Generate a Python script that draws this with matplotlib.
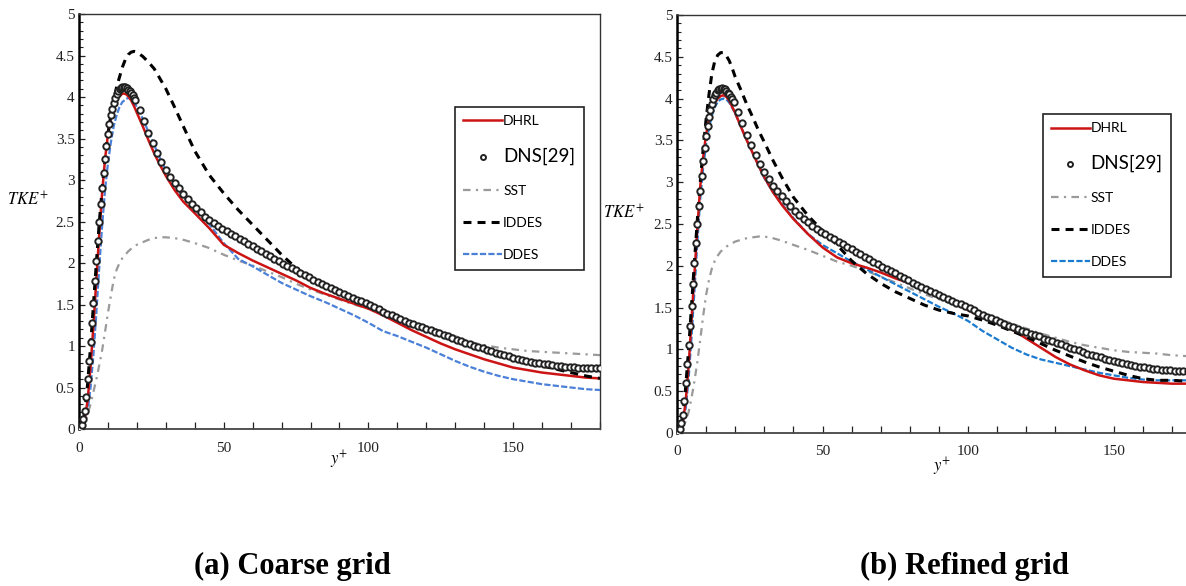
import numpy as np
import matplotlib.pyplot as plt
from matplotlib.ticker import MultipleLocator, FormatStrFormatter

plt.rcParams['font.family'] = ['Liberation Serif', 'DejaVu Serif']
plt.rcParams['mathtext.fontset'] = 'stix'

# ---------------- data ----------------
# DNS reference (same in both panels)
dns_yp = [0, 0.5, 1, 1.5, 2, 2.5, 3, 3.5, 4, 4.5, 5, 5.5, 6, 6.5, 7, 7.5, 8, 8.5, 9, 9.5,
          10, 10.5, 11, 11.5, 12, 12.5, 13, 13.5, 14, 14.5, 15, 15.5, 16, 16.5, 17, 17.5, 18, 18.5, 19,
          19.5, 21, 22.5, 24, 25.5, 27, 28.5, 30, 31.5, 33, 34.5, 36, 37.5, 39, 40.5, 42, 43.5, 45,
          46.5, 48, 49.5, 51, 52.5, 54, 55.5, 57, 58.5, 60, 61.5, 63, 64.5, 66, 67.5, 69, 70.5, 72,
          73.5, 75, 76.5, 78, 79.5, 81, 82.5, 84, 85.5, 87, 88.5, 90, 91.5, 93, 94.5, 96, 97.5, 99,
          100.5, 102, 103.5, 105, 106.5, 108, 109.5, 111, 112.5, 114, 115.5, 117, 118.5, 120, 121.5,
          123, 124.5, 126, 127.5, 129, 130.5, 132, 133.5, 135, 136.5, 138, 139.5, 141, 142.5, 144,
          145.5, 147, 148.5, 150, 151.5, 153, 154.5, 156, 157.5, 159, 160.5, 162, 163.5, 165, 166.5,
          168, 169.5, 171, 172.5, 174, 175.5, 177, 178.5, 180]
dns_tke = [0, 0.01, 0.05, 0.12, 0.22, 0.38, 0.6, 0.82, 1.05, 1.28, 1.52, 1.78, 2.03, 2.27, 2.5, 2.71, 2.9, 3.08, 3.25, 3.41,
           3.55, 3.67, 3.78, 3.86, 3.93, 3.99, 4.04, 4.07, 4.1, 4.11, 4.12, 4.125, 4.12, 4.11, 4.09, 4.07, 4.05, 4.02, 3.99,
           3.96, 3.84, 3.71, 3.57, 3.45, 3.33, 3.22, 3.12, 3.04, 2.96, 2.90, 2.83, 2.77, 2.71, 2.66, 2.61, 2.56, 2.52,
           2.48, 2.44, 2.41, 2.38, 2.35, 2.32, 2.29, 2.26, 2.23, 2.20, 2.17, 2.14, 2.11, 2.08, 2.05, 2.02, 1.99, 1.96,
           1.94, 1.91, 1.88, 1.85, 1.83, 1.80, 1.77, 1.75, 1.72, 1.70, 1.67, 1.65, 1.63, 1.60, 1.58, 1.56, 1.54, 1.515,
           1.49, 1.47, 1.44, 1.415, 1.39, 1.37, 1.35, 1.325, 1.30, 1.28, 1.265, 1.245, 1.225, 1.21, 1.19,
           1.17, 1.155, 1.13, 1.115, 1.095, 1.075, 1.06, 1.04, 1.02, 1.005, 0.99, 0.97, 0.95, 0.935, 0.92,
           0.905, 0.89, 0.875, 0.86, 0.845, 0.835, 0.825, 0.81, 0.80, 0.795, 0.785, 0.78, 0.77, 0.765, 0.755,
           0.75, 0.75, 0.745, 0.74, 0.74, 0.74, 0.735, 0.73, 0.73]

# y+ locations of model curves
yp = [0, 1, 2, 3, 4, 5, 6, 7, 8, 9, 10, 11, 12, 13, 14, 15, 16, 17, 18, 19, 20, 22, 24, 26, 28, 30,
      33, 36, 40, 45, 50, 55, 60, 65, 70, 75, 80, 85, 90, 95, 100, 105, 110, 115, 120, 125, 130,
      135, 140, 145, 150, 155, 160, 165, 170, 175, 180]

# (a) coarse grid
dhrl_a = [0, 0.03, 0.12, 0.35, 0.75, 1.25, 1.8, 2.35, 2.85, 3.25, 3.55, 3.75, 3.88, 3.96, 4.01, 4.04, 4.04, 4.01, 3.96, 3.89, 3.81, 3.65, 3.48, 3.32, 3.18, 3.05,
          2.88, 2.74, 2.60, 2.42, 2.22, 2.12, 2.03, 1.95, 1.87, 1.79, 1.70, 1.63, 1.57, 1.51, 1.45, 1.37, 1.28, 1.19, 1.11, 1.03, 0.96,
          0.90, 0.84, 0.79, 0.74, 0.71, 0.68, 0.66, 0.64, 0.62, 0.61]
sst_a = [0, 0.02, 0.08, 0.18, 0.3, 0.45, 0.6, 0.77, 0.95, 1.17, 1.4, 1.6, 1.8, 1.92, 2.0, 2.06, 2.1, 2.14, 2.17, 2.2, 2.22, 2.25, 2.28, 2.3, 2.31, 2.31,
         2.3, 2.28, 2.24, 2.18, 2.1, 2.03, 1.97, 1.9, 1.83, 1.75, 1.68, 1.62, 1.56, 1.5, 1.45, 1.39, 1.34, 1.29, 1.24, 1.18, 1.12,
         1.05, 1.01, 0.98, 0.96, 0.94, 0.93, 0.92, 0.91, 0.9, 0.89]
iddes_a = [0, 0.05, 0.2, 0.55, 1.0, 1.5, 2.0, 2.48, 2.9, 3.25, 3.55, 3.78, 3.97, 4.12, 4.24, 4.36, 4.45, 4.51, 4.54, 4.55, 4.54, 4.49, 4.42, 4.34, 4.22, 4.1,
           3.88, 3.65, 3.35, 3.06, 2.84, 2.64, 2.46, 2.28, 2.1, 1.94, 1.8, 1.72, 1.64, 1.56, 1.48, 1.41, 1.34, 1.27, 1.2, 1.13, 1.07,
           1.01, 0.95, 0.9, 0.85, 0.8, 0.76, 0.72, 0.68, 0.64, 0.61]
ddes_a = [0, 0.02, 0.08, 0.22, 0.5, 0.9, 1.4, 1.95, 2.45, 2.88, 3.2, 3.45, 3.65, 3.78, 3.88, 3.94, 3.97, 3.99, 3.97, 3.93, 3.88, 3.74, 3.58, 3.42, 3.26, 3.12,
          2.94, 2.8, 2.65, 2.47, 2.24, 2.05, 1.96, 1.86, 1.76, 1.68, 1.6, 1.53, 1.45, 1.37, 1.28, 1.18, 1.12, 1.05, 0.98, 0.9, 0.82,
          0.75, 0.69, 0.64, 0.6, 0.57, 0.54, 0.52, 0.5, 0.48, 0.47]

# (b) refined grid
dhrl_b = [0, 0.03, 0.12, 0.38, 0.8, 1.35, 1.9, 2.45, 2.95, 3.3, 3.57, 3.75, 3.87, 3.95, 4.0, 4.03, 4.04, 4.02, 3.97, 3.9, 3.83, 3.66, 3.5, 3.35, 3.2, 3.06,
          2.88, 2.73, 2.56, 2.38, 2.22, 2.1, 2.03, 1.98, 1.92, 1.85, 1.79, 1.72, 1.65, 1.57, 1.47, 1.38, 1.31, 1.24, 1.13, 1.02, 0.91,
          0.82, 0.75, 0.69, 0.65, 0.63, 0.61, 0.6, 0.59, 0.59, 0.59]
sst_b = [0, 0.02, 0.06, 0.14, 0.25, 0.42, 0.62, 0.85, 1.12, 1.4, 1.65, 1.83, 1.97, 2.06, 2.12, 2.17, 2.2, 2.23, 2.25, 2.27, 2.29, 2.31, 2.33, 2.34, 2.35, 2.35,
         2.33, 2.3, 2.25, 2.19, 2.12, 2.05, 2.0, 1.94, 1.87, 1.8, 1.73, 1.66, 1.6, 1.54, 1.48, 1.42, 1.37, 1.31, 1.25, 1.19, 1.14,
         1.09, 1.05, 1.02, 0.99, 0.97, 0.96, 0.95, 0.93, 0.92, 0.92]
iddes_b = [0, 0.05, 0.2, 0.55, 1.0, 1.52, 2.05, 2.55, 3.0, 3.4, 3.75, 4.05, 4.3, 4.45, 4.52, 4.55, 4.55, 4.51, 4.45, 4.36, 4.26, 4.1, 3.93, 3.78, 3.62, 3.48,
           3.26, 3.06, 2.82, 2.6, 2.42, 2.25, 2.06, 1.91, 1.79, 1.69, 1.61, 1.53, 1.47, 1.43, 1.4, 1.35, 1.29, 1.22, 1.15, 1.07, 0.99,
           0.92, 0.85, 0.79, 0.74, 0.69, 0.65, 0.63, 0.63, 0.62, 0.61]
ddes_b = [0, 0.02, 0.1, 0.3, 0.65, 1.15, 1.7, 2.28, 2.8, 3.18, 3.45, 3.65, 3.8, 3.9, 3.96, 3.99, 4.0, 3.99, 3.95, 3.89, 3.82, 3.66, 3.5, 3.35, 3.2, 3.05,
          2.88, 2.74, 2.57, 2.38, 2.25, 2.15, 2.05, 1.96, 1.87, 1.78, 1.69, 1.6, 1.51, 1.43, 1.34, 1.22, 1.12, 1.02, 0.94, 0.88, 0.84,
          0.8, 0.76, 0.72, 0.69, 0.66, 0.64, 0.63, 0.63, 0.63, 0.63]

labels = ['DHRL', 'DNS[29]', 'SST', 'IDDES', 'DDES']
captions = ['(a) Coarse grid', '(b) Refined grid']

# ---------------- figure ----------------
fig = plt.figure(figsize=(11.86, 5.86), dpi=100)
ax_a = fig.add_axes([0.0666, 0.2679, 0.4393, 0.7082])
ax_b = fig.add_axes([0.5708, 0.2611, 0.4418, 0.7133])


def draw_panel(ax, dhrl, sst, iddes, ddes, blue, leg_pos, ylab_pos, xlab_pos):
    l_sst, = ax.plot(yp, sst, color='#9a9a9a', lw=1.6, dashes=(3.4, 2.4, 1.0, 2.4), zorder=2)
    l_ddes, = ax.plot(yp, ddes, color=blue, lw=1.6, dashes=(2.8, 1.0), zorder=3)
    l_dhrl, = ax.plot(yp, dhrl, color='#cc1414', lw=1.8, zorder=3)
    l_iddes, = ax.plot(yp, iddes, color='black', lw=2.2, dashes=(2.6, 2.0), zorder=4)
    l_dns, = ax.plot(dns_yp, dns_tke, ls='none', marker='o', ms=4.6, mfc='white',
                     mec='#222222', mew=1.4, zorder=5)

    ax.set_xlim(0, 180)
    ax.set_ylim(0, 5)
    ax.xaxis.set_major_locator(MultipleLocator(50))
    ax.xaxis.set_minor_locator(MultipleLocator(10))
    ax.yaxis.set_major_locator(MultipleLocator(0.5))
    ax.yaxis.set_minor_locator(MultipleLocator(0.1))
    ax.yaxis.set_major_formatter(FormatStrFormatter('%g'))
    ax.tick_params(axis='both', which='both', direction='in', labelsize=11, colors='#222222')
    ax.tick_params(axis='x', which='both', length=5, pad=9, width=0.9)
    ax.tick_params(axis='y', which='major', length=4, pad=3, width=0.9)
    ax.tick_params(axis='y', which='minor', length=3, width=0.8)
    ax.spines['left'].set_linewidth(1.8)
    ax.spines['left'].set_color('black')
    ax.spines['bottom'].set_linewidth(1.3)
    ax.spines['bottom'].set_color('#444444')
    for s in ['top', 'right']:
        ax.spines[s].set_linewidth(1.0)
        ax.spines[s].set_color('#333333')

    ax.set_ylabel('$TKE^{+}$', rotation=0, fontsize=12, va='center', ha='center')
    ax.yaxis.set_label_coords(*ylab_pos)
    ax.set_xlabel('$y^{+}$', fontsize=12, va='center')
    ax.xaxis.set_label_coords(*xlab_pos)

    leg = ax.legend([l_dhrl, l_dns, l_sst, l_iddes, l_ddes], labels,
                    loc='upper left', bbox_to_anchor=leg_pos, borderaxespad=0,
                    numpoints=1, prop={'family': 'Lato', 'size': 10}, frameon=True,
                    fancybox=False, edgecolor='#222222', framealpha=1,
                    handlelength=2.8, handletextpad=0.05, labelspacing=1.45,
                    borderpad=0.6)
    leg.get_frame().set_linewidth(1.2)
    leg.get_texts()[1].set_fontsize(13.5)
    leg.legend_handles[1].set_markersize(3.6)


draw_panel(ax_a, dhrl_a, sst_a, iddes_a, ddes_a, '#4a80d8',
           (0.722, 0.776), (-0.098, 0.552), (0.50, -0.075))
draw_panel(ax_b, dhrl_b, sst_b, iddes_b, ddes_b, '#1b7bd0',
           (0.698, 0.763), (-0.101, 0.526), (0.506, -0.081))

fig.text(292 / 1186, 1 - 566 / 586, captions[0], ha='center', va='center',
         fontsize=22, fontweight='bold')
fig.text(964 / 1186, 1 - 566 / 586, captions[1], ha='center', va='center',
         fontsize=22, fontweight='bold')

fig.savefig('out.png', dpi=100)
